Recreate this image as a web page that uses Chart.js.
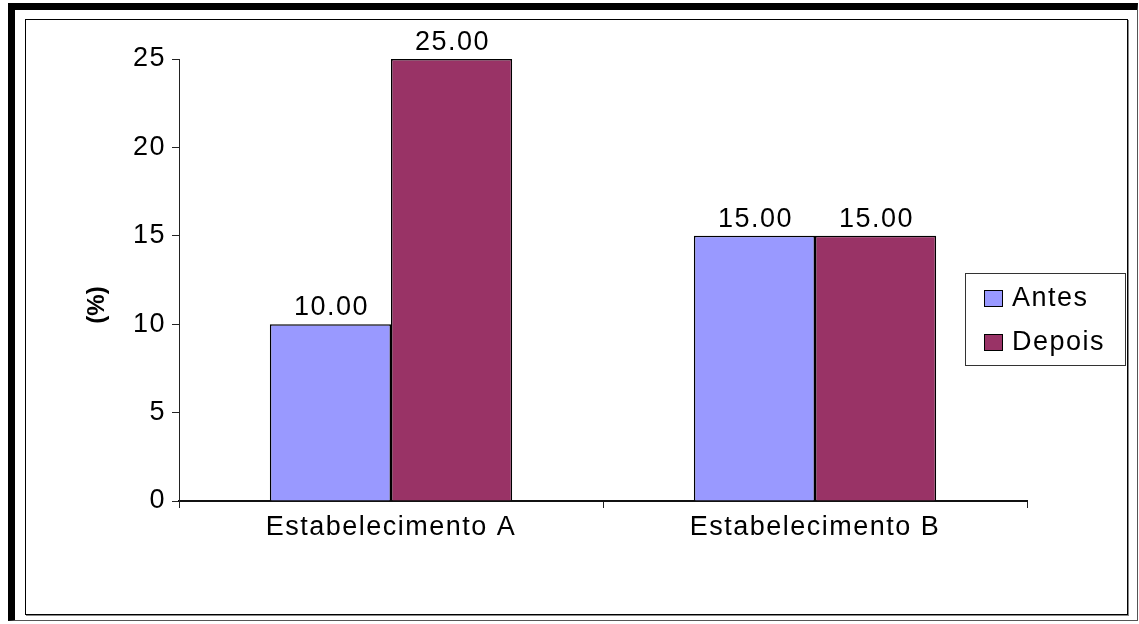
<!DOCTYPE html>
<html>
<head>
<meta charset="utf-8">
<script src="https://cdn.jsdelivr.net/npm/chart.js@4.4.0/dist/chart.umd.min.js"></script>
<style>
  html, body { margin: 0; padding: 0; background: #fff; }
  body { width: 1139px; height: 624px; position: relative; overflow: hidden; }
  .outer {
    position: absolute; left: 8px; top: 3px; width: 1122px; height: 610px;
    border-left: 7px solid #000; border-top: 7px solid #000;
    border-right: 1px solid #555; border-bottom: 1px solid #555;
  }
  .inner {
    position: absolute; left: 25px; top: 19px; width: 1101px; height: 594px;
    border: 1px solid #000; box-shadow: 1px 1px 0 #888;
  }
  #chart { position: absolute; left: 0; top: 0; }
</style>
</head>
<body>
<div class="outer"></div>
<div class="inner"></div>
<canvas id="chart" width="1139" height="624"></canvas>
<script>
const categories = ['Estabelecimento A', 'Estabelecimento B'];
const antes = [10, 15];
const depois = [25, 15];
const yTicks = [0, 5, 10, 15, 20, 25];
const yTitle = '(%)';

const FONT = 'Arial, "Liberation Sans", sans-serif';
const SIZE = 27;
const GAP = '1.5px';

// canvas letter spacing gets reset whenever Chart.js resizes the canvas
const spacing = {
  id: 'spacing',
  beforeLayout(chart) { chart.ctx.letterSpacing = GAP; },
  beforeDraw(chart) { chart.ctx.letterSpacing = GAP; }
};

// value labels above each bar
const valueLabels = {
  id: 'valueLabels',
  afterDatasetsDraw(chart) {
    const ctx = chart.ctx;
    ctx.save();
    ctx.letterSpacing = GAP;
    ctx.font = SIZE + 'px ' + FONT;
    ctx.fillStyle = '#000';
    ctx.textAlign = 'center';
    ctx.textBaseline = 'alphabetic';
    chart.data.datasets.forEach((ds, i) => {
      chart.getDatasetMeta(i).data.forEach((bar, j) => {
        ctx.fillText(ds.data[j].toFixed(2), bar.x + 1, bar.y - 9);
      });
    });
    ctx.restore();
  }
};

// y axis title and boxed legend
const extras = {
  id: 'extras',
  afterDraw(chart) {
    const ctx = chart.ctx;
    ctx.save();
    ctx.letterSpacing = '0px';
    ctx.font = 'bold 24px ' + FONT;
    ctx.fillStyle = '#000';
    ctx.translate(97, 305);
    ctx.rotate(-Math.PI / 2);
    ctx.textAlign = 'center';
    ctx.textBaseline = 'middle';
    ctx.fillText(yTitle, 0, 0);
    ctx.restore();

    ctx.save();
    ctx.strokeStyle = '#333';
    ctx.lineWidth = 1;
    ctx.strokeRect(965.5, 273.5, 160, 92);
    ctx.letterSpacing = GAP;
    ctx.font = SIZE + 'px ' + FONT;
    ctx.textBaseline = 'alphabetic';
    ctx.textAlign = 'left';
    chart.data.datasets.forEach((ds, i) => {
      const y = 290 + i * 44;
      ctx.fillStyle = ds.backgroundColor;
      ctx.fillRect(984, y, 18, 16);
      ctx.strokeStyle = '#000';
      ctx.strokeRect(984.5, y + 0.5, 18, 16);
      ctx.fillStyle = '#000';
      ctx.fillText(ds.label, 1012, y + 16);
    });
    ctx.restore();
  }
};

new Chart(document.getElementById('chart'), {
  type: 'bar',
  data: {
    labels: categories,
    datasets: [
      { label: 'Antes', data: antes, backgroundColor: '#9999FF', borderColor: '#000', borderWidth: 1.5 },
      { label: 'Depois', data: depois, backgroundColor: '#993366', borderColor: '#000', borderWidth: 1.5 }
    ]
  },
  options: {
    responsive: false,
    animation: false,
    devicePixelRatio: 1,
    layout: { padding: { left: 26, top: 59, right: 112, bottom: 20 } },
    datasets: { bar: { categoryPercentage: 0.5714, barPercentage: 1 } },
    plugins: { legend: { display: false }, tooltip: { enabled: false } },
    scales: {
      x: {
        grid: { offset: true, drawOnChartArea: false, tickLength: 7, color: '#222' },
        border: { color: '#111', width: 2 },
        ticks: { color: '#000', font: { family: FONT, size: SIZE }, padding: 3, maxRotation: 0 },
        afterFit(scale) { scale.height = 103; }
      },
      y: {
        min: 0, max: 25,
        afterBuildTicks(scale) { scale.ticks = yTicks.map(v => ({ value: v })); },
        grid: { drawOnChartArea: false, tickLength: 7, color: '#222' },
        border: { color: '#222', width: 1 },
        ticks: { color: '#000', font: { family: FONT, size: SIZE }, padding: 6 },
        afterFit(scale) { scale.width = 153; }
      }
    }
  },
  plugins: [spacing, valueLabels, extras]
});
</script>
</body>
</html>
